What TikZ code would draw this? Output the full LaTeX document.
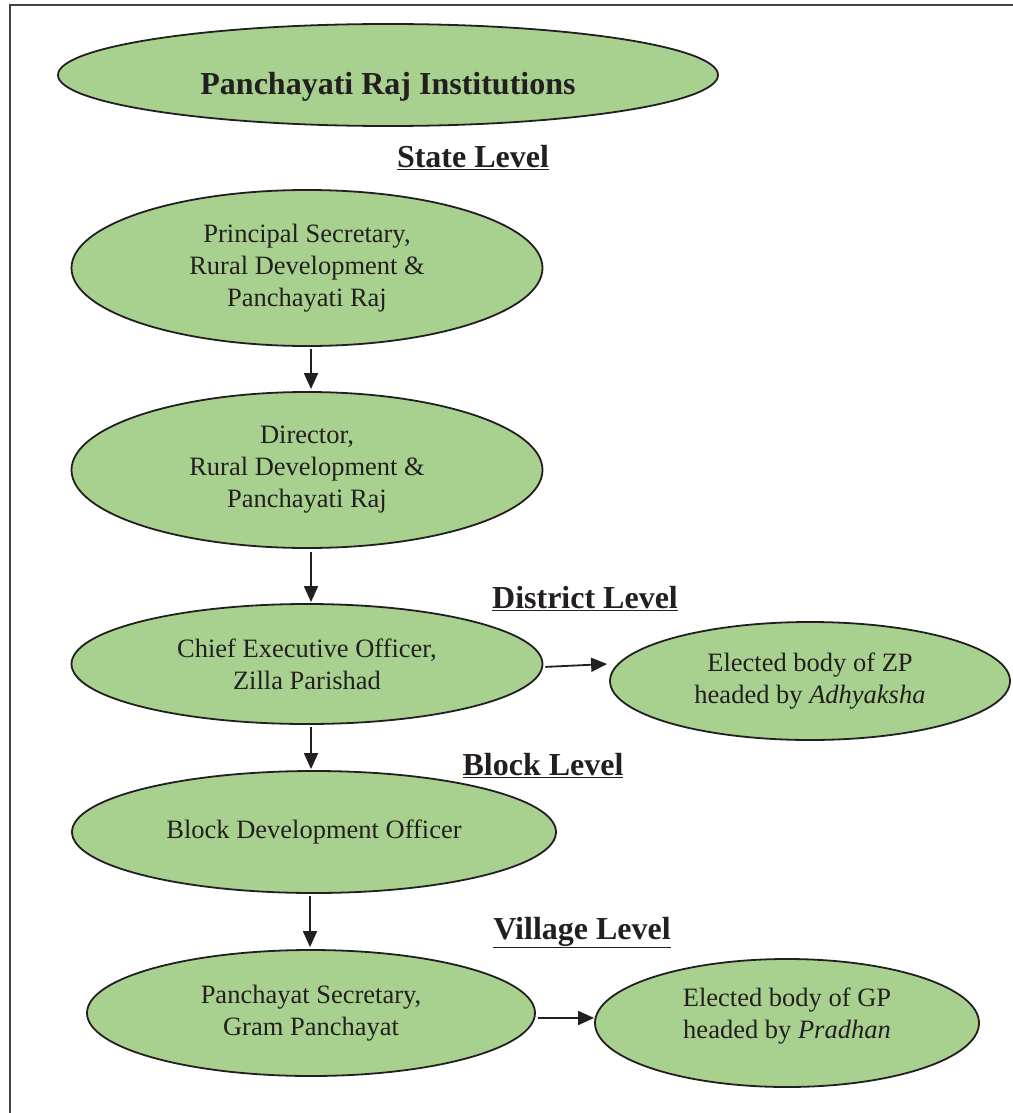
\documentclass[tikz,border=0pt]{standalone}
\usepackage{fontspec}
\setmainfont{Liberation Serif}
\usetikzlibrary{shapes, arrows.meta, positioning}
\definecolor{leafgreen}{RGB}{168,208,142}
\definecolor{inkgray}{RGB}{35,31,32}

\begin{document}
\begin{tikzpicture}[x=1pt, y=-1pt, thin]

\tikzstyle{oval} = [ellipse, draw=inkgray, line width=1.8pt, fill=leafgreen, text=inkgray, inner sep=0pt, align=center, font=\fontsize{26.5}{32}\selectfont]
\tikzstyle{level} = [anchor=base, text=inkgray, font=\fontsize{32}{38}\selectfont\bfseries]
\tikzstyle{link} = [draw=inkgray, line width=1.8pt, -{Triangle[length=16pt, width=14pt]}]

\useasboundingbox (0,0) rectangle (1012,1113);
\draw[line width=2pt, inkgray!85] (10,5) rectangle (1040,1140);

% Nodes
\node[oval, minimum width=660pt, minimum height=102pt, text height=47pt, text depth=7pt, font=\fontsize{32}{38}\selectfont\bfseries] (pri) at (388,75) {Panchayati Raj Institutions};
\node[level] (state) at (473,167) {\underline{State Level}};
\node[oval, minimum width=471pt, minimum height=156pt] (secy) at (307,268) {Principal Secretary,\\ Rural Development \&\\ Panchayati Raj};
\node[oval, minimum width=471pt, minimum height=156pt] (dir) at (307,470) {Director,\\ Rural Development \&\\ Panchayati Raj};
\node[level] (district) at (585,608) {\underline{District Level}};
\node[oval, minimum width=471pt, minimum height=120pt] (ceo) at (307,664) {Chief Executive Officer,\\ Zilla Parishad};
\node[oval, minimum width=400pt, minimum height=118pt] (zp) at (810,681) {Elected body of ZP\\ headed by \textit{Adhyaksha}};
\node[level] (block) at (543,775) {\underline{Block Level}};
\node[oval, minimum width=484pt, minimum height=122pt] (bdo) at (314,832) {Block Development Officer};
\node[level] (village) at (582,939) {\underline{Village Level}};
\node[oval, minimum width=448pt, minimum height=126pt] (psec) at (311,1013) {Panchayat Secretary,\\ Gram Panchayat};
\node[oval, minimum width=384pt, minimum height=128pt] (gp) at (787,1023) {\raisebox{7pt}[\height][\depth]{\begin{tabular}{@{}c@{}}Elected body of GP\\ headed by \textit{Pradhan}\end{tabular}}};

% Connections
\draw[link, shorten <=2pt, shorten >=2pt] ([xshift=4pt]secy.south) -- ([xshift=4pt]dir.north);
\draw[link, shorten <=3pt, shorten >=1pt] ([xshift=4pt]dir.south) -- ([xshift=4pt]ceo.north);
\draw[link, shorten <=2pt] ([yshift=-3pt]ceo.east) -- ([xshift=-2pt, yshift=17pt]zp.west);
\draw[link, shorten <=2pt, shorten >=1pt] ([xshift=4pt]ceo.south) -- ([xshift=-3pt]bdo.north);
\draw[link, shorten <=2pt, shorten >=2pt] ([xshift=-4pt]bdo.south) -- ([xshift=-1pt]psec.north);
\draw[link, shorten <=2pt] ([yshift=-5pt]psec.east) -- ([yshift=5pt]gp.west);

\end{tikzpicture}
\end{document}
